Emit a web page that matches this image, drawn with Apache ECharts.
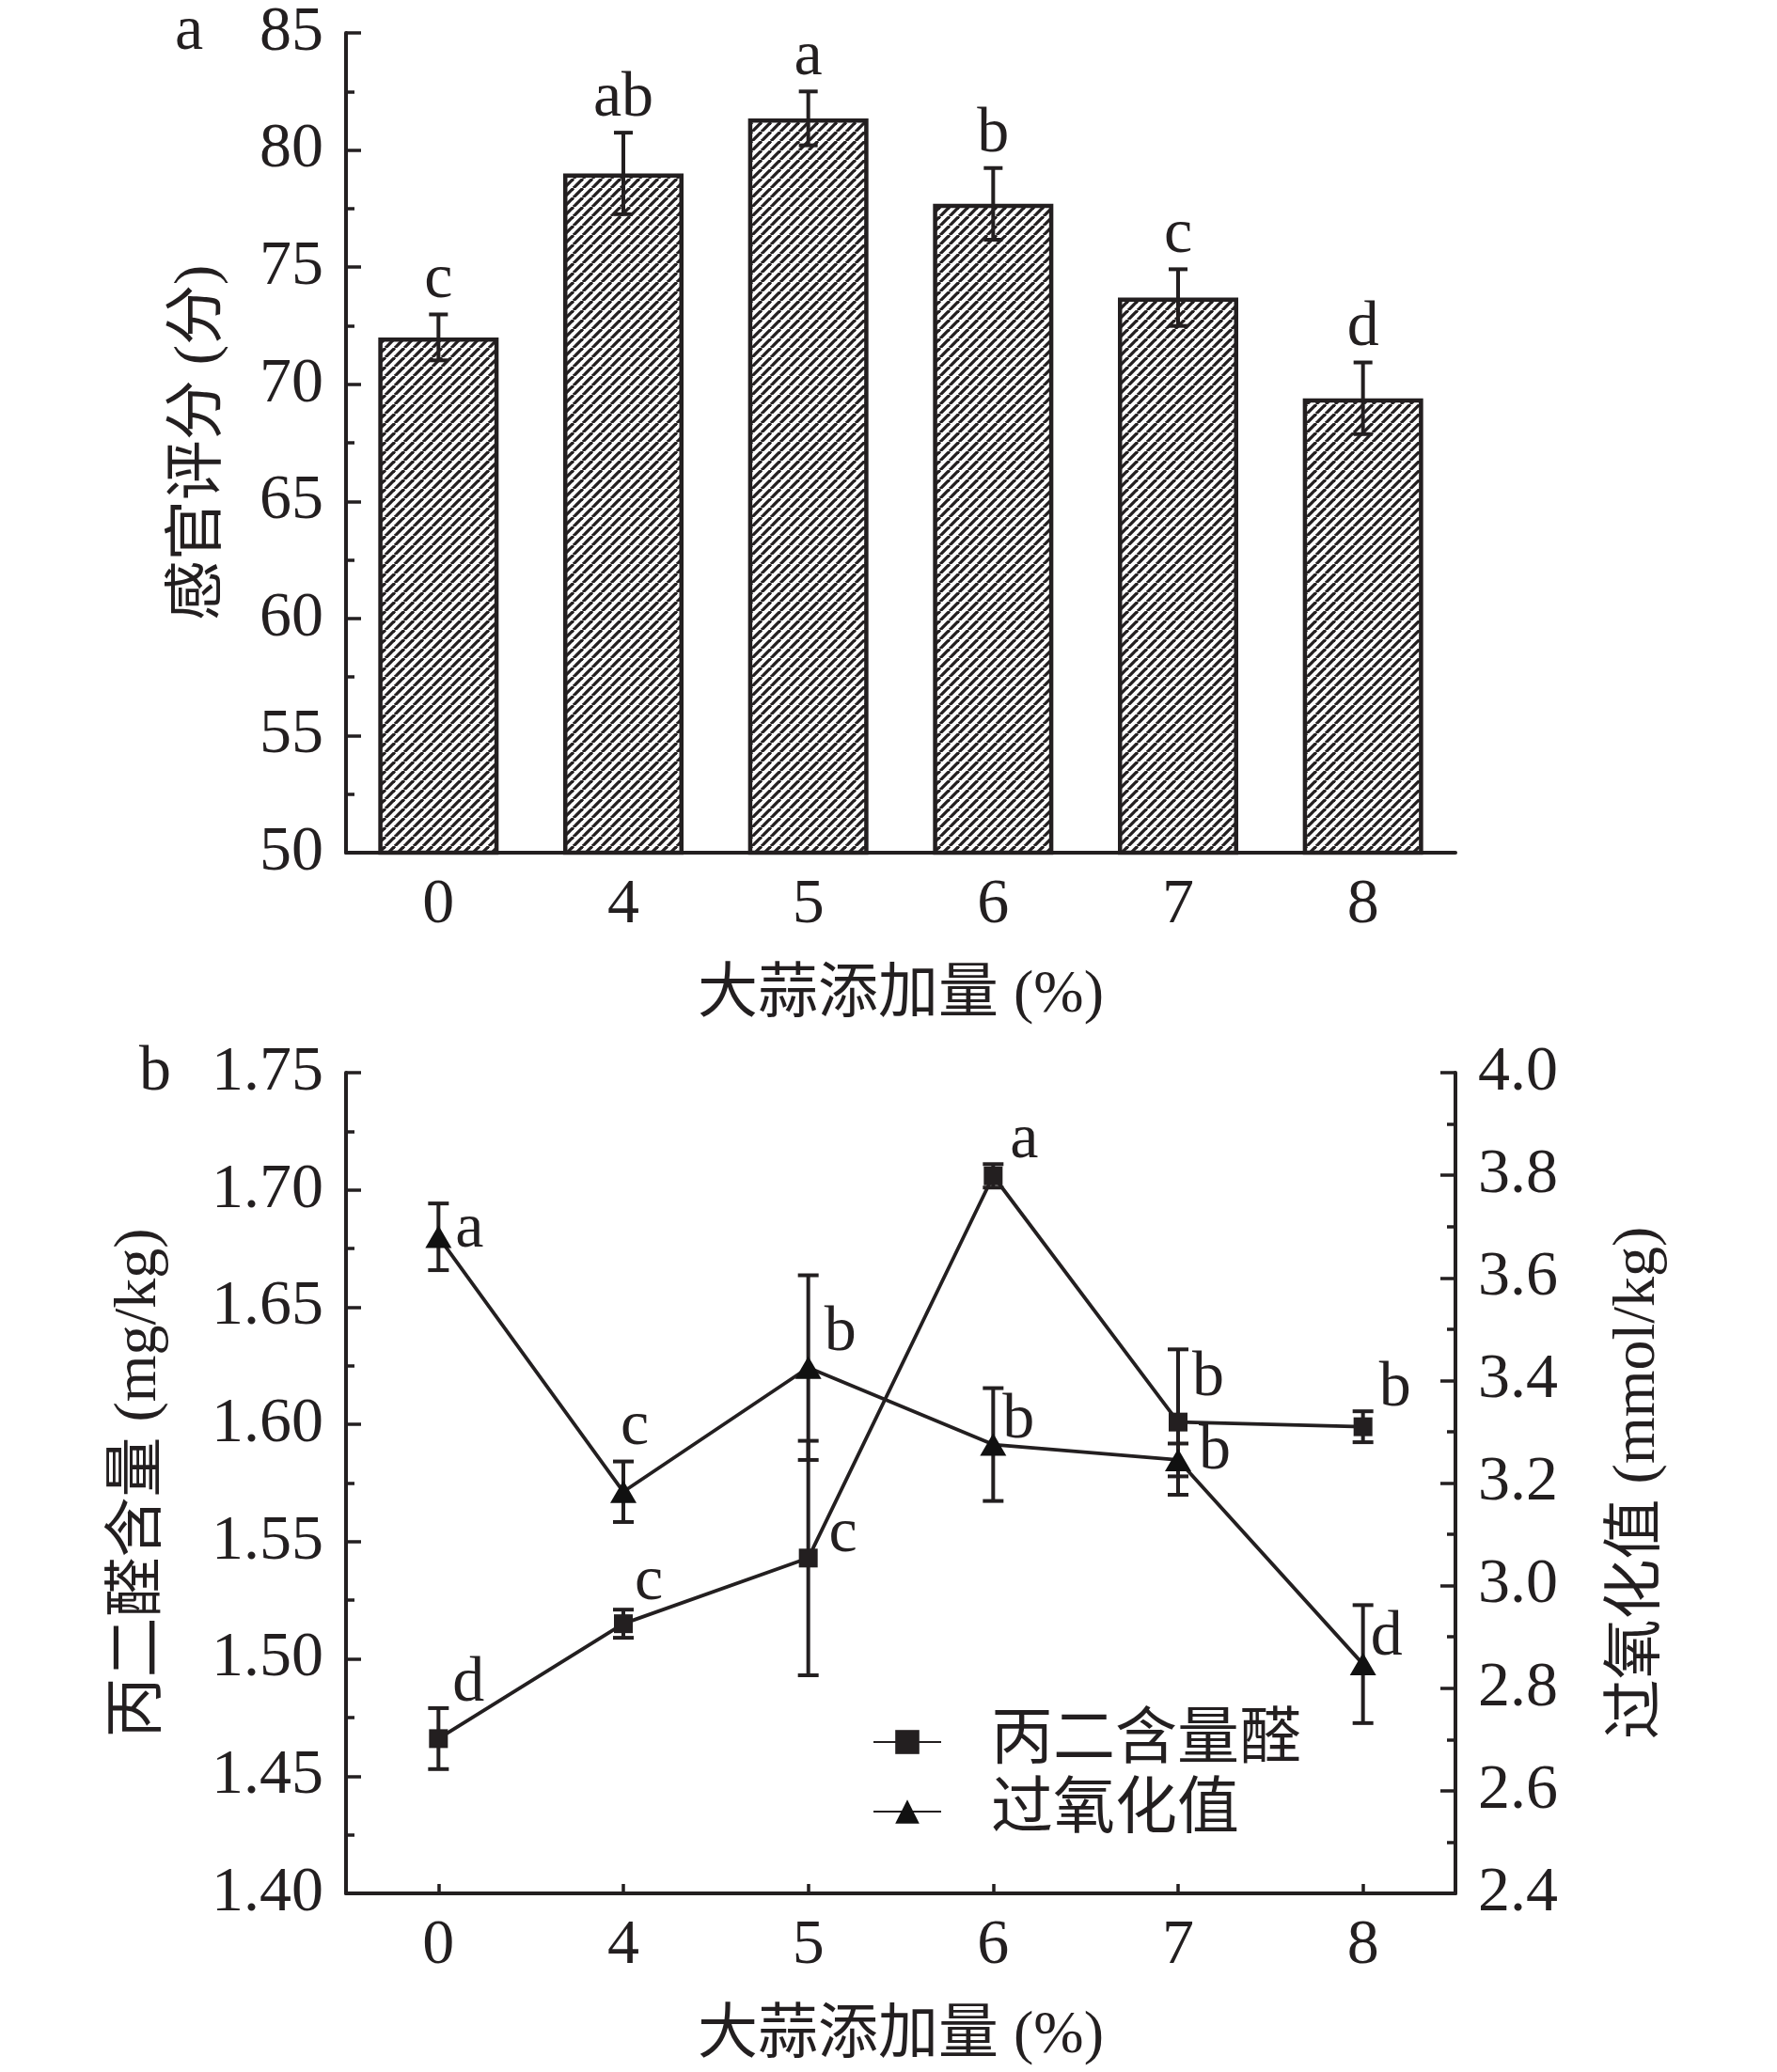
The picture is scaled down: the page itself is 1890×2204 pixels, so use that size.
<!DOCTYPE html>
<html>
<head>
<meta charset="utf-8">
<script src="https://cdn.jsdelivr.net/npm/echarts@6/dist/echarts.min.js"></script>
<style>
html,body{margin:0;padding:0;background:#fff;}
#chart{width:1890px;height:2204px;}
</style>
</head>
<body>
<div id="chart"></div>
<script>
// ---------------- data ----------------
const categories = ['0', '4', '5', '6', '7', '8'];

// panel a: sensory score
const sensoryScore = [72.0, 79.0, 81.35, 77.7, 73.7, 69.4];
const sensoryErr = [0.98, 1.74, 1.15, 1.53, 1.21, 1.53];
const sensoryLetters = ['c', 'ab', 'a', 'b', 'c', 'd'];

// panel b: MDA content (left axis) and peroxide value (right axis)
const mdaValues = [1.466, 1.515, 1.543, 1.706, 1.601, 1.599];
const mdaErr = [0.013, 0.006, 0.05, 0.005, 0.031, 0.0066];
const mdaLetters = ['d', 'c', 'c', 'a', 'b', 'b'];

const pvValues = [3.68, 3.183, 3.425, 3.275, 3.245, 2.847];
const pvErr = [0.065, 0.059, 0.18, 0.11, 0.032, 0.115];
const pvLetters = ['a', 'c', 'b', 'b', 'b', 'd'];

// axis ranges
const sensoryAxis = { min: 50, max: 85, step: 5 };
const mdaAxis = { min: 1.40, max: 1.75, step: 0.05 };
const pvAxis = { min: 2.4, max: 4.0, step: 0.2 };

// ---------------- style ----------------
const INK = '#231f20';
const FONT = "'Liberation Serif', 'Noto Sans CJK SC', serif";
const TICK_FS = 68;
const NAME_FS = 64;
const LETTER_FS = 68;

// letter offsets (px) relative to each marker centre (style, not data)
const mdaLetterOffset = [[30, -58], [25, -44], [35, -25], [31, -38], [30, -47], [32, -40]];
const pvLetterOffset = [[31, -7], [10, -69], [32, -37], [25, -25], [37, -9], [23, -28]];

function hatchCanvas() {
  const s = 10;
  const c = document.createElement('canvas');
  c.width = s; c.height = s;
  const g = c.getContext('2d');
  g.fillStyle = '#ffffff';
  g.fillRect(0, 0, s, s);
  g.strokeStyle = INK;
  g.lineWidth = 3.3;
  for (const k of [-1, 0, 1]) {
    g.beginPath();
    g.moveTo(k * s, s);
    g.lineTo(k * s + s, 0);
    g.stroke();
  }
  return c;
}

function seg(x1, y1, x2, y2) {
  return { type: 'line', shape: { x1, y1, x2, y2 }, style: { stroke: INK, lineWidth: 4 } };
}

function topErrRender(params, api) {
  const i = api.value(0), v = api.value(1), e = api.value(2);
  const hi = api.coord([i, v + e]);
  const lo = api.coord([i, v - e]);
  const x = hi[0], cap = 10;
  return {
    type: 'group',
    children: [
      seg(x, hi[1], x, lo[1]),
      seg(x - cap, hi[1], x + cap, hi[1]),
      seg(x - cap, lo[1], x + cap, lo[1]),
      {
        type: 'text',
        style: {
          text: sensoryLetters[params.dataIndex],
          x: x, y: hi[1] - 36,
          align: 'center', verticalAlign: 'middle',
          font: LETTER_FS + 'px ' + FONT, fill: INK
        }
      }
    ]
  };
}

function makePointErrRender(letters, offsets) {
  return function (params, api) {
    const i = api.value(0), v = api.value(1), e = api.value(2);
    const c = api.coord([i, v]);
    const hi = api.coord([i, v + e]);
    const lo = api.coord([i, v - e]);
    const x = c[0], cap = 11;
    const off = offsets[params.dataIndex];
    return {
      type: 'group',
      children: [
        seg(x, hi[1], x, lo[1]),
        seg(x - cap, hi[1], x + cap, hi[1]),
        seg(x - cap, lo[1], x + cap, lo[1]),
        {
          type: 'text',
          style: {
            text: letters[params.dataIndex],
            x: x + off[0] + 2, y: c[1] + off[1],
            align: 'center', verticalAlign: 'middle',
            font: LETTER_FS + 'px ' + FONT, fill: INK
          }
        }
      ]
    };
  };
}

const axisLineStyle = { lineStyle: { color: INK, width: 4 } };
const tickStyle = { color: INK, width: 3.5 };

function xAxisCfg(gridIndex) {
  return {
    type: 'category', gridIndex, data: categories, boundaryGap: true,
    axisLine: { show: true, onZero: false, ...axisLineStyle },
    axisTick: { show: true, inside: true, alignWithLabel: true, length: 10, lineStyle: tickStyle },
    axisLabel: { fontSize: TICK_FS, fontFamily: FONT, color: INK, margin: 22 },
    splitLine: { show: false },
    name: '大蒜添加量 (%)', nameLocation: 'middle', nameGap: 120,
    nameTextStyle: { fontSize: NAME_FS, fontFamily: FONT, color: INK }
  };
}

function yAxisCfg(gridIndex, rng, digits, name, nameGap, position) {
  return {
    type: 'value', gridIndex, position,
    min: rng.min, max: rng.max, interval: rng.step,
    axisLine: { show: true, ...axisLineStyle },
    axisTick: { show: true, inside: true, length: 16, lineStyle: tickStyle },
    minorTick: { show: true, splitNumber: 2, length: 9, lineStyle: tickStyle },
    splitLine: { show: false },
    minorSplitLine: { show: false },
    axisLabel: {
      fontSize: TICK_FS, fontFamily: FONT, color: INK, margin: 24,
      formatter: v => v.toFixed(digits)
    },
    name, nameLocation: 'middle', nameGap, nameRotate: 90,
    nameTextStyle: { fontSize: NAME_FS, fontFamily: FONT, color: INK }
  };
}

const chart = echarts.init(document.getElementById('chart'), null, { renderer: 'canvas' });

const option = {
  backgroundColor: '#ffffff',
  animation: false,
  title: [
    { text: 'a', left: 186, top: 0, padding: 0, textStyle: { fontSize: TICK_FS, fontWeight: 'normal', fontFamily: FONT, color: INK } },
    { text: 'b', left: 148, top: 1107, padding: 0, textStyle: { fontSize: TICK_FS, fontWeight: 'normal', fontFamily: FONT, color: INK } }
  ],
  legend: {
    orient: 'vertical', left: 928, top: 1820, padding: 0,
    itemWidth: 72, itemHeight: 32, itemGap: 8,
    textStyle: { fontSize: 66, fontFamily: FONT, color: INK, padding: [0, 0, 0, 48], lineHeight: 66 },
    data: ['丙二含量醛', '过氧化值']
  },
  grid: [
    { left: 368, right: 342, top: 35, height: 872 },
    { left: 368, right: 342, top: 1141, height: 873 }
  ],
  xAxis: [xAxisCfg(0), xAxisCfg(1)],
  yAxis: [
    yAxisCfg(0, sensoryAxis, 0, '感官评分 (分)', 124, 'left'),
    yAxisCfg(1, mdaAxis, 2, '丙二醛含量 (mg/kg)', 188, 'left'),
    yAxisCfg(1, pvAxis, 1, '过氧化值 (mmol/kg)', 162, 'right')
  ],
  series: [
    {
      type: 'bar', xAxisIndex: 0, yAxisIndex: 0, barWidth: 128,
      data: sensoryScore,
      itemStyle: { color: { image: hatchCanvas(), repeat: 'repeat' }, borderColor: INK, borderWidth: 4.5 },
      emphasis: { disabled: true }
    },
    {
      type: 'custom', xAxisIndex: 0, yAxisIndex: 0, z: 5,
      renderItem: topErrRender,
      data: sensoryScore.map((v, i) => [i, v, sensoryErr[i]])
    },
    {
      name: '丙二含量醛', type: 'line', xAxisIndex: 1, yAxisIndex: 1,
      data: mdaValues, symbol: 'rect', symbolSize: 20,
      itemStyle: { color: INK }, lineStyle: { color: INK, width: 3.8 }, z: 4
    },
    {
      name: '过氧化值', type: 'line', xAxisIndex: 1, yAxisIndex: 2,
      data: pvValues, symbol: 'triangle', symbolSize: [28, 24],
      itemStyle: { color: '#111' }, lineStyle: { color: INK, width: 3.8 }, z: 4
    },
    {
      type: 'custom', xAxisIndex: 1, yAxisIndex: 1, z: 3,
      renderItem: makePointErrRender(mdaLetters, mdaLetterOffset),
      data: mdaValues.map((v, i) => [i, v, mdaErr[i]])
    },
    {
      type: 'custom', xAxisIndex: 1, yAxisIndex: 2, z: 3,
      renderItem: makePointErrRender(pvLetters, pvLetterOffset),
      data: pvValues.map((v, i) => [i, v, pvErr[i]])
    }
  ]
};

chart.setOption(option);
</script>
</body>
</html>
